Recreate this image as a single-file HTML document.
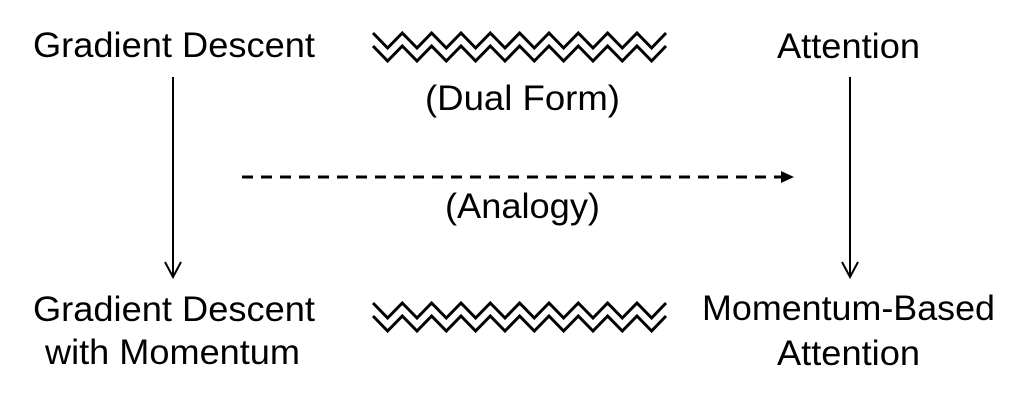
<!DOCTYPE html>
<html><head><meta charset="utf-8"><style>
html,body{margin:0;padding:0;background:#fff;}
svg{display:block;}
text{font-family:"Liberation Sans",Arial,sans-serif;font-size:35px;fill:#000;}
</style></head><body>
<svg width="1024" height="402" viewBox="0 0 1024 402">
<text x="33" y="57" textLength="282" lengthAdjust="spacingAndGlyphs">Gradient Descent</text>
<text x="777" y="58" textLength="143" lengthAdjust="spacingAndGlyphs">Attention</text>
<text x="425" y="110" textLength="195" lengthAdjust="spacingAndGlyphs">(Dual Form)</text>
<text x="445" y="218" textLength="155" lengthAdjust="spacingAndGlyphs">(Analogy)</text>
<text x="33" y="321" textLength="282" lengthAdjust="spacingAndGlyphs">Gradient Descent</text>
<text x="45" y="364" textLength="255" lengthAdjust="spacingAndGlyphs">with Momentum</text>
<text x="702" y="320" textLength="293" lengthAdjust="spacingAndGlyphs">Momentum-Based</text>
<text x="777" y="365" textLength="143" lengthAdjust="spacingAndGlyphs">Attention</text>
<g fill="none" stroke="#000" stroke-width="3">
<polyline id="z" points="373,33 387.6,48 402.3,33 417,48 431.6,33 446.3,48 461,33 475.6,48 490.3,33 505,48 519.6,33 534.3,48 549,33 563.6,48 578.3,33 593,48 607.6,33 622.3,48 637,33 651.6,48 666,33"/>
<use href="#z" y="13"/>
<use href="#z" y="270"/>
<use href="#z" y="283"/>
</g>
<g stroke="#000" stroke-width="2" fill="none">
<line x1="173" y1="77" x2="173" y2="276"/>
<polyline points="165,262 173,277 181,262"/>
<line x1="850" y1="77" x2="850" y2="276"/>
<polyline points="842,262 850,277 858,262"/>
<line x1="242" y1="177" x2="782" y2="177" stroke-width="3" stroke-dasharray="11,8"/>
</g>
<polygon points="781,171 794,177 781,183" fill="#000"/>
</svg>
</body></html>
